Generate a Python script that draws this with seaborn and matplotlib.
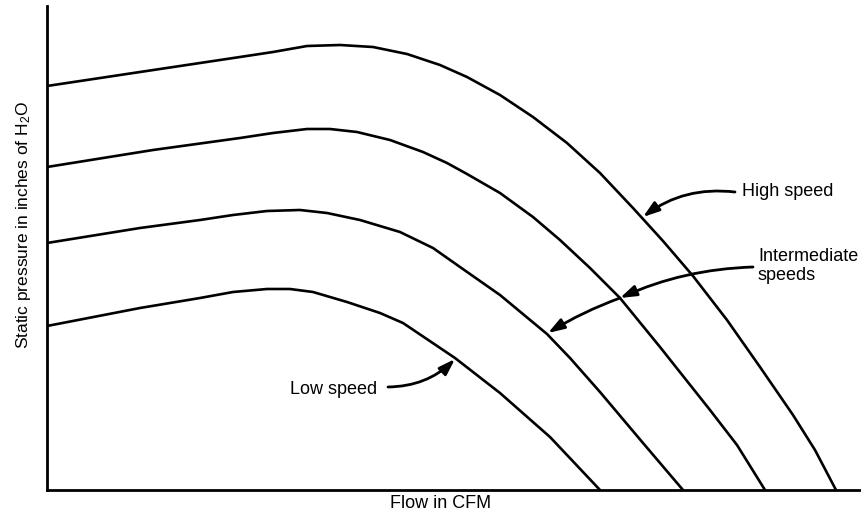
import pandas as pd
import seaborn as sns
import matplotlib
matplotlib.use("Agg")
import matplotlib.pyplot as plt

# Fan curves (arbitrary flow / pressure units, no scale shown)
flow_high = [0, 93, 193, 226, 260, 293, 326, 360, 393, 420, 453, 486, 520, 553, 586, 616, 646, 680, 713, 746, 768, 789]
pres_high = [404, 418, 433, 438, 444, 445, 443, 436, 425, 413, 395, 373, 347, 317, 282, 249, 214, 170, 123, 75, 40, 0]

flow_mid1 = [0, 106, 193, 226, 260, 283, 310, 343, 376, 400, 420, 453, 486, 513, 543, 573, 613, 663, 690, 718]
pres_mid1 = [323, 340, 352, 357, 361, 361, 358, 350, 338, 327, 316, 297, 273, 250, 222, 192, 143, 80, 45, 0]

flow_mid2 = [0, 93, 153, 186, 220, 253, 280, 313, 353, 386, 413, 453, 500, 523, 553, 596, 636]
pres_mid2 = [247, 262, 270, 275, 279, 280, 277, 270, 258, 242, 223, 195, 156, 132, 98, 47, 0]

flow_low = [0, 93, 153, 186, 220, 243, 266, 300, 333, 356, 408, 453, 503, 553]
pres_low = [164, 182, 192, 198, 201, 201, 198, 188, 177, 167, 132, 97, 53, 0]

curves = {
    "high": (flow_high, pres_high),
    "mid1": (flow_mid1, pres_mid1),
    "mid2": (flow_mid2, pres_mid2),
    "low": (flow_low, pres_low),
}

rows = []
for name, (fx, py) in curves.items():
    for a, b in zip(fx, py):
        rows.append({"speed": name, "flow": a, "pressure": b})
df = pd.DataFrame(rows)

sns.set_style("white")
plt.rcParams["font.family"] = ["Liberation Sans", "DejaVu Sans"]
plt.rcParams["mathtext.fontset"] = "custom"
plt.rcParams["mathtext.rm"] = "Liberation Sans"
plt.rcParams["mathtext.default"] = "regular"
plt.rcParams["text.color"] = "black"
plt.rcParams["axes.labelcolor"] = "black"

fig = plt.figure(figsize=(8.62, 5.24), dpi=100)
ax = fig.add_axes([47 / 862, 34 / 524, 815 / 862, 484 / 524])

sns.lineplot(data=df, x="flow", y="pressure", hue="speed", palette=["black"] * 4,
             legend=False, sort=False, estimator=None, linewidth=1.9, ax=ax)

ax.set_xlim(0, 815)
ax.set_ylim(0, 484)
ax.set_xticks([])
ax.set_yticks([])
sns.despine(ax=ax)
for s in ["left", "bottom"]:
    ax.spines[s].set_linewidth(2)
    ax.spines[s].set_color("black")

ax.set_xlabel("Flow in CFM", fontsize=13)
ax.set_ylabel("Static pressure in inches of H$_2$O", fontsize=12.5)
ax.xaxis.set_label_coords(0.483, -0.01)
ax.yaxis.set_label_coords(-0.017, 0.548)

arrow = dict(arrowstyle="-|>,head_length=0.75,head_width=0.25", color="black",
             lw=2, shrinkA=0, shrinkB=0, mutation_scale=13)

# labels and arrows
ax.text(695, 299, "High speed", fontsize=13, ha="left", va="center")
ax.annotate("", xy=(596, 273), xytext=(688, 298),
            arrowprops=dict(arrow, connectionstyle="arc3,rad=0.2"))

ax.text(711, 224, "Intermediate\nspeeds", fontsize=13, ha="left", va="center")
ax.annotate("", xy=(573, 192), xytext=(706, 223),
            arrowprops=dict(arrow, connectionstyle="arc3,rad=0.1"))
ax.annotate("", xy=(501, 157), xytext=(573, 192),
            arrowprops=dict(arrow, connectionstyle="arc3,rad=0.05"))

ax.text(330, 101, "Low speed", fontsize=13, ha="right", va="center")
ax.annotate("", xy=(408, 131), xytext=(341, 103),
            arrowprops=dict(arrow, connectionstyle="arc3,rad=0.2"))

fig.savefig("out.png", dpi=100)
